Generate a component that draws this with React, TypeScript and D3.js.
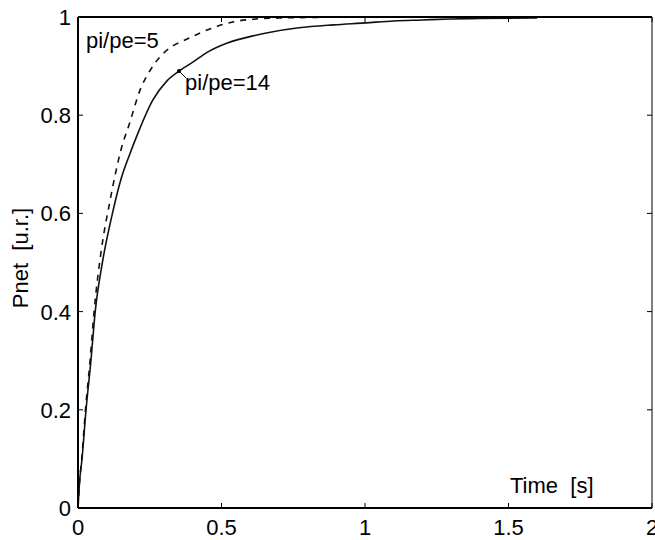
import React, { useEffect, useRef } from 'react';
import * as d3 from 'd3';

// time [s] and Pnet [u.r.]
const timeSolid = [0, 0.005, 0.014, 0.028, 0.045, 0.06, 0.085, 0.12, 0.15, 0.18, 0.21, 0.26, 0.31, 0.352, 0.4, 0.45, 0.52, 0.62, 0.67, 0.77, 0.89, 1.0, 1.1, 1.2, 1.3, 1.4, 1.6];
const pnetSolid = [0, 0.05, 0.1, 0.2, 0.3, 0.4, 0.5, 0.6, 0.67, 0.72, 0.765, 0.83, 0.87, 0.89, 0.908, 0.928, 0.947, 0.963, 0.969, 0.978, 0.984, 0.988, 0.992, 0.994, 0.996, 0.997, 0.998];

const timeDashed = [0, 0.005, 0.013, 0.026, 0.042, 0.056, 0.08, 0.112, 0.15, 0.18, 0.216, 0.25, 0.286, 0.32, 0.38, 0.47, 0.54, 0.6, 0.7, 0.8, 1.0, 1.6];
const pnetDashed = [0, 0.05, 0.1, 0.2, 0.3, 0.4, 0.52, 0.627, 0.73, 0.784, 0.851, 0.89, 0.919, 0.937, 0.955, 0.978, 0.99, 0.995, 0.998, 0.999, 1.0, 1.0];

const xTicks = [0, 0.5, 1, 1.5, 2];
const yTicks = [0, 0.2, 0.4, 0.6, 0.8, 1];

const labelDashed = 'pi/pe=5';
const labelSolid = 'pi/pe=14';
const markerPoint = { t: 0.352, v: 0.89 };

export default function App() {
  const ref = useRef<SVGSVGElement | null>(null);

  useEffect(() => {
    const svg = d3.select(ref.current);
    svg.selectAll('*').remove();

    const left = 78, right = 652, top = 17, bottom = 508;
    const font = '"Liberation Sans", Arial, sans-serif';

    const x = d3.scaleLinear().domain([0, 2]).range([left, right]);
    const y = d3.scaleLinear().domain([0, 1]).range([bottom, top]);

    const line = d3.line<[number, number]>()
      .x(d => x(d[0]))
      .y(d => y(d[1]))
      .curve(d3.curveMonotoneX);

    const solid: [number, number][] = timeSolid.map((t, i) => [t, pnetSolid[i]]);
    const dashed: [number, number][] = timeDashed.map((t, i) => [t, pnetDashed[i]]);

    svg.append('path')
      .attr('d', line(dashed))
      .attr('fill', 'none')
      .attr('stroke', '#111')
      .attr('stroke-width', 1.6)
      .attr('stroke-dasharray', '6,6');

    svg.append('path')
      .attr('d', line(solid))
      .attr('fill', 'none')
      .attr('stroke', '#111')
      .attr('stroke-width', 1.6);

    // box
    svg.append('line').attr('x1', left).attr('y1', top).attr('x2', left).attr('y2', bottom)
      .attr('stroke', '#000').attr('stroke-width', 2);
    svg.append('line').attr('x1', left).attr('y1', bottom).attr('x2', right).attr('y2', bottom)
      .attr('stroke', '#000').attr('stroke-width', 2);
    svg.append('line').attr('x1', left).attr('y1', top).attr('x2', right).attr('y2', top)
      .attr('stroke', '#000').attr('stroke-width', 2);
    svg.append('line').attr('x1', right).attr('y1', top).attr('x2', right).attr('y2', bottom)
      .attr('stroke', '#000').attr('stroke-width', 1);

    // ticks, inward on all sides
    const tl = 5;
    xTicks.forEach(t => {
      svg.append('line').attr('x1', x(t)).attr('x2', x(t)).attr('y1', bottom).attr('y2', bottom - tl)
        .attr('stroke', '#000').attr('stroke-width', 1);
      svg.append('line').attr('x1', x(t)).attr('x2', x(t)).attr('y1', top).attr('y2', top + tl)
        .attr('stroke', '#000').attr('stroke-width', 1);
      svg.append('text')
        .attr('x', x(t)).attr('y', bottom + 27)
        .attr('text-anchor', 'middle')
        .attr('font-family', font).attr('font-size', 22)
        .text(String(t));
    });
    yTicks.forEach(v => {
      svg.append('line').attr('x1', left).attr('x2', left + tl).attr('y1', y(v)).attr('y2', y(v))
        .attr('stroke', '#000').attr('stroke-width', 1);
      svg.append('line').attr('x1', right).attr('x2', right - tl).attr('y1', y(v)).attr('y2', y(v))
        .attr('stroke', '#000').attr('stroke-width', 1);
      svg.append('text')
        .attr('x', left - 7).attr('y', y(v) + 8)
        .attr('text-anchor', 'end')
        .attr('font-family', font).attr('font-size', 22)
        .text(String(v));
    });

    // axis labels
    svg.append('text')
      .attr('x', 510).attr('y', 493)
      .attr('font-family', font).attr('font-size', 22)
      .attr('xml:space', 'preserve')
      .style('white-space', 'pre')
      .text('Time  [s]');

    svg.append('text')
      .attr('transform', 'translate(28, 258) rotate(-90)')
      .attr('text-anchor', 'middle')
      .attr('font-family', font).attr('font-size', 22)
      .style('white-space', 'pre')
      .text('Pnet  [u.r.]');

    // curve labels
    svg.append('text')
      .attr('x', 86).attr('y', 48)
      .attr('font-family', font).attr('font-size', 22)
      .text(labelDashed);

    const mx = x(markerPoint.t), my = y(markerPoint.v);
    svg.append('circle').attr('cx', mx).attr('cy', my).attr('r', 2).attr('fill', '#000');
    svg.append('line').attr('x1', mx).attr('y1', my).attr('x2', mx + 7).attr('y2', my + 7)
      .attr('stroke', '#000').attr('stroke-width', 1);
    svg.append('text')
      .attr('x', mx + 6).attr('y', 90)
      .attr('font-family', font).attr('font-size', 22)
      .text(labelSolid);
  }, []);

  return (
    <svg
      ref={ref}
      width={655}
      height={540}
      style={{ position: 'absolute', left: 0, top: 0, background: '#fff' }}
    />
  );
}
